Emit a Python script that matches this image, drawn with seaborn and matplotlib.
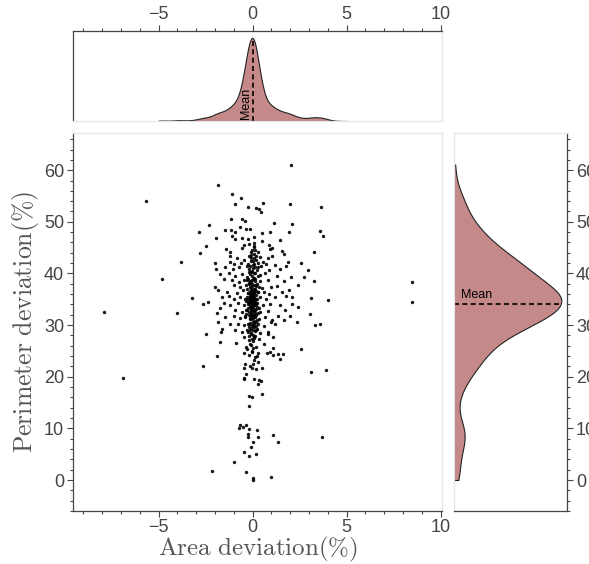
import numpy as np
import pandas as pd
import matplotlib
matplotlib.use('Agg')
import matplotlib.pyplot as plt
import matplotlib.transforms as mtransforms
import seaborn as sns
from matplotlib.ticker import MultipleLocator

# (area deviation %, perimeter deviation %)
outliers = [(-7.88, 32.5), (-6.88, 19.7), (-5.65, 54.0), (-4.80, 38.9), (-4.00, 32.3),
            (-3.79, 42.2), (-3.20, 35.2), (8.49, 38.3), (8.49, 34.4)]

spread = [
    (2.06, 61.1), (-1.84, 57.1), (-1.12, 55.3), (-0.62, 54.7), (-0.92, 53.5), (0.57, 53.7), (0.19, 52.7), (0.32, 52.4), (0.46, 51.9), (-0.23, 52.8),
    (2.00, 53.5), (3.63, 52.9), (-1.15, 50.5), (-0.57, 50.5), (-0.41, 50.2), (1.13, 49.7), (2.11, 49.6), (-2.30, 49.3), (-1.47, 48.5), (-1.17, 48.5),
    (-0.92, 48.1), (-0.69, 49.0), (-0.34, 48.7), (-0.14, 48.7), (0.50, 47.8), (0.94, 48.0), (1.91, 48.1), (3.56, 48.2), (3.72, 47.2), (-2.87, 48.0),
    (-1.95, 46.9), (-1.08, 47.2), (-0.96, 46.6), (-0.55, 46.9), (-0.25, 46.6), (0.09, 45.9), (0.51, 46.2), (1.45, 46.4), (-2.50, 45.3), (-0.46, 45.5),
    (-0.55, 44.9), (0.05, 45.1), (0.89, 45.6), (1.05, 45.0), (0.94, 44.7), (-1.40, 44.8), (-1.19, 44.2), (-2.80, 43.9), (-0.05, 44.5), (0.27, 44.2),
    (1.58, 44.3), (1.67, 43.8), (3.24, 44.2), (-1.22, 43.3), (-0.83, 42.9), (-0.21, 43.3), (0.05, 43.7), (0.41, 43.2), (0.80, 43.0), (1.03, 43.3),
    (-1.19, 42.2), (-0.98, 41.9), (-0.62, 42.0), (-0.48, 42.6), (-0.09, 42.4), (0.20, 42.7), (0.55, 42.2), (0.73, 41.9), (1.21, 41.7), (1.90, 42.3),
    (2.59, 42.1), (-1.99, 42.0), (-1.95, 40.9), (-1.45, 41.3), (-1.05, 40.9), (-0.73, 41.3), (-0.30, 41.4), (0.02, 41.6), (0.27, 41.3), (0.46, 41.5),
    (0.85, 40.6), (1.47, 40.9), (1.79, 41.4), (2.96, 40.6), (-1.76, 39.8), (-1.28, 40.0), (-0.96, 39.5), (-0.57, 39.8), (-0.21, 40.3), (0.05, 40.1),
    (0.37, 39.7), (0.67, 40.1), (1.29, 39.5), (2.04, 39.3), (2.71, 39.3), (-1.54, 39.0), (-1.10, 38.7), (-0.74, 38.4), (-0.44, 38.8), (-0.16, 38.6),
    (0.11, 38.9), (0.41, 38.6), (0.80, 38.8), (1.65, 38.6), (3.28, 38.6), (2.39, 37.7), (-1.99, 37.4), (-1.01, 37.8), (-0.66, 37.4), (-0.37, 37.8),
    (-0.12, 37.4), (0.16, 37.8), (0.51, 37.1), (0.98, 37.4), (1.29, 37.5), (-1.84, 36.8), (-1.37, 36.4), (-0.83, 36.2), (-0.51, 36.8), (-0.27, 36.2),
    (-0.04, 36.6), (0.27, 36.4), (0.59, 36.4), (0.87, 36.1), (1.56, 36.4), (1.91, 36.8), (-1.63, 35.5), (-1.26, 35.6), (-1.01, 35.1), (-0.69, 35.5),
    (-0.39, 35.1), (-0.16, 35.5), (0.09, 35.1), (0.37, 35.5), (0.73, 35.1), (1.21, 35.5), (1.77, 35.7), (2.09, 35.5), (3.12, 35.3), (3.99, 34.8),
    (-2.66, 34.1), (-2.36, 34.4), (-1.51, 34.2), (-1.19, 33.8), (-0.80, 34.3), (-0.48, 33.8), (-0.21, 34.2), (0.00, 33.8), (0.23, 34.3), (0.55, 33.8),
    (0.94, 34.0), (1.47, 33.8), (2.09, 34.0), (2.39, 33.5), (-1.76, 33.4), (-0.92, 32.9), (-0.57, 32.6), (-0.30, 33.0), (-0.09, 32.6), (0.14, 33.0),
    (0.41, 32.5), (0.80, 32.8), (1.74, 32.9), (-1.90, 32.4), (-1.45, 31.6), (-1.01, 31.7), (-0.66, 31.3), (-0.39, 31.7), (-0.12, 31.3), (0.09, 31.7),
    (0.34, 31.2), (0.67, 31.6), (1.03, 30.9), (1.33, 31.7), (2.00, 31.7), (3.07, 32.2), (-1.84, 30.6), (-1.61, 29.2), (-1.67, 28.7), (-1.19, 30.3),
    (-0.80, 30.3), (-0.44, 30.0), (-0.19, 30.3), (0.02, 29.9), (0.27, 30.3), (0.59, 29.8), (0.98, 30.6), (1.21, 30.3), (1.68, 30.9), (2.36, 30.6),
    (3.33, 30.1), (3.56, 30.3), (-0.92, 29.0), (-0.57, 28.7), (-0.30, 29.0), (-0.07, 28.5), (0.16, 29.0), (0.41, 28.4), (0.80, 28.7), (-2.48, 28.2),
    (-1.72, 26.8), (-0.87, 26.6), (-0.48, 27.6), (-0.21, 27.2), (0.05, 27.7), (0.32, 27.4), (0.80, 28.2), (1.08, 27.7), (-0.34, 25.8), (-0.09, 26.1),
    (0.20, 25.8), (0.62, 26.4), (1.08, 25.5), (2.57, 25.4), (-0.30, 25.3),
]

# the dense column around zero
core = [
    (-0.05, 33.2), (0.12, 34.8), (-0.18, 31.9), (0.03, 36.1), (-0.28, 35.4), (0.21, 33.6), (-0.10, 37.2), (0.08, 30.8), (-0.22, 34.1), (0.15, 32.3),
    (-0.02, 35.7), (0.06, 33.9), (-0.14, 36.6), (0.25, 35.1), (-0.33, 33.0), (0.01, 31.4), (-0.08, 38.3), (0.18, 37.5), (-0.25, 30.2), (0.10, 29.6),
    (-0.04, 34.5), (0.02, 32.7), (-0.12, 33.5), (0.14, 36.9), (-0.20, 37.9), (0.05, 39.2), (-0.16, 29.1), (0.22, 31.0), (-0.06, 28.3), (0.09, 27.5),
    (-0.30, 38.7), (0.28, 39.6), (-0.01, 40.4), (0.11, 41.2), (-0.15, 39.9), (0.04, 42.5), (-0.24, 41.8), (0.17, 43.4), (-0.09, 44.1), (0.07, 37.0),
    (-0.03, 30.0), (0.13, 28.9), (-0.19, 27.8), (0.00, 26.9), (-0.11, 32.0), (0.19, 34.3), (-0.27, 36.2), (0.24, 38.0), (-0.07, 35.0), (0.03, 34.0),
    (-0.13, 34.9), (0.09, 35.4), (-0.02, 33.7), (0.16, 33.1), (-0.21, 32.6), (0.06, 31.9), (-0.36, 34.6), (0.31, 36.4), (-0.05, 36.8), (0.02, 38.9),
    (-0.17, 40.8), (0.12, 40.0), (-0.08, 31.1), (0.20, 29.9), (-0.26, 28.6), (0.04, 29.0), (-0.12, 30.5), (0.08, 32.9), (-0.04, 37.6), (0.14, 38.5),
    (-0.40, 31.5), (0.35, 33.3), (-0.01, 35.9), (0.07, 34.2), (-0.09, 33.4), (0.00, 35.2), (-0.06, 34.8), (0.05, 36.5), (-0.15, 35.6), (0.11, 33.8),
    (-0.23, 35.0), (0.18, 32.0), (-0.03, 39.5), (0.01, 41.0), (-0.10, 42.9), (0.13, 44.6), (-0.19, 45.8), (0.06, 47.0), (-0.07, 43.6), (0.26, 42.0),
    (-0.11, 34.2), (0.04, 33.5), (-0.16, 33.9), (0.10, 36.2), (-0.01, 37.9), (0.19, 35.8), (-0.24, 33.4), (0.07, 30.3), (-0.07, 29.4), (0.15, 27.9),
    (-0.14, 26.3), (0.02, 25.6), (-0.05, 24.7), (0.12, 23.9), (-0.18, 38.1), (0.22, 40.6), (-0.29, 39.4), (0.05, 43.0), (-0.13, 41.5), (0.09, 45.3),
    (-0.02, 31.7), (0.17, 30.6), (-0.20, 29.7), (0.01, 28.1), (-0.08, 36.0), (0.14, 35.0), (-0.32, 36.9), (0.27, 32.4), (-0.04, 32.2), (0.06, 37.8),
    (-0.10, 35.6), (0.02, 35.0), (-0.06, 33.0), (0.10, 34.6), (-0.15, 31.2), (0.20, 36.7), (-0.22, 39.0), (0.00, 30.6), (-0.03, 27.3), (0.08, 41.8),
    (-0.36, 32.1), (0.33, 37.3), (-0.09, 40.2), (0.13, 31.5), (-0.26, 34.4), (0.04, 35.6), (-0.12, 36.3), (0.16, 34.0), (-0.05, 38.7), (0.24, 29.3),
]

low = [
    (-1.90, 24.0), (-0.48, 24.6), (-0.03, 25.0), (0.29, 24.6), (0.76, 24.6), (1.06, 24.2), (1.33, 24.4), (1.47, 23.5), (1.62, 24.4), (0.94, 24.8),
    (0.23, 24.0), (-0.21, 24.2), (-2.62, 22.0), (-0.39, 22.4), (-0.16, 22.1), (0.02, 22.4), (0.27, 22.8), (0.07, 23.3), (-0.03, 21.6), (-0.48, 21.7),
    (0.20, 21.5), (0.51, 21.7), (3.12, 21.0), (3.90, 21.4), (-0.34, 20.5), (-0.48, 19.7), (-0.44, 19.5), (0.09, 19.6), (0.32, 19.3), (0.44, 19.1),
    (0.27, 18.5), (0.50, 16.6), (-0.21, 16.2), (-0.03, 16.0), (-0.21, 14.3),
    (-0.65, 10.6), (-0.51, 10.3), (-0.37, 10.6), (-0.71, 10.0), (-0.17, 9.8), (0.21, 9.7), (-0.23, 9.0), (-0.26, 8.3), (0.29, 8.3), (1.10, 8.7),
    (1.33, 7.3), (0.00, 7.4), (3.69, 8.3), (-0.09, 6.3), (-0.44, 5.5), (0.18, 5.1), (-0.21, 4.6), (-0.97, 3.4), (-2.16, 1.7), (-0.37, 1.5),
    (0.02, 0.3), (0.02, 0.0), (0.96, 0.5),
]

df = pd.DataFrame(outliers + spread + core + low, columns=['area', 'perimeter'])

sns.set_theme(style='ticks')
plt.rcParams['font.family'] = ['Liberation Sans', 'DejaVu Sans']
plt.rcParams['mathtext.fontset'] = 'cm'

fill_color = '#c58989'
dark = '#444444'
light = '#e6e6e6'

W, H = 589, 564
fig = plt.figure(figsize=(W / 100, H / 100), dpi=100)


def box(x0, y0, x1, y1):
    return [x0 / W, 1 - y1 / H, (x1 - x0) / W, (y1 - y0) / H]


ax = fig.add_axes(box(73, 133, 442, 511))
ax_top = fig.add_axes(box(73, 31, 442, 121), sharex=ax)
ax_right = fig.add_axes(box(454, 133, 567, 511), sharey=ax)

sns.scatterplot(data=df, x='area', y='perimeter', ax=ax, s=6, color='black',
                linewidth=0, alpha=0.9)

sns.kdeplot(data=df, x='area', ax=ax_top, fill=True, color=fill_color, alpha=1,
            edgecolor='#222222', linewidth=0.8, clip=(-5, 5), bw_adjust=0.7)
sns.kdeplot(data=df, y='perimeter', ax=ax_right, fill=True, color=fill_color, alpha=1,
            edgecolor='#222222', linewidth=0.8, cut=0, bw_adjust=0.9)

# mean markers
mx = df['area'].mean()
my = df['perimeter'].mean()

v = ax_top.collections[0].get_paths()[0].vertices
v = v[v[:, 1] > 0]
v = v[np.argsort(v[:, 0])]
hx = np.interp(mx, v[:, 0], v[:, 1])
ax_top.set_ylim(0, v[:, 1].max() / 0.925)
ax_top.plot([mx, mx], [0, hx], ls='--', color='black', lw=1.2, dashes=(3, 2))
ax_top.text(mx - 0.1, 0.02, 'Mean', rotation=90, ha='right', va='bottom', fontsize=9,
            color='black',
            transform=mtransforms.blended_transform_factory(ax_top.transData, ax_top.transAxes))

v = ax_right.collections[0].get_paths()[0].vertices
v = v[v[:, 0] > 0]
v = v[np.argsort(v[:, 1])]
hy = np.interp(my, v[:, 1], v[:, 0])
ax_right.set_xlim(0, v[:, 0].max() / 0.95)
ax_right.plot([0, hy], [my, my], ls='--', color='black', lw=1.2, dashes=(3, 2))
ax_right.text(0.06, my + 0.5, 'Mean', ha='left', va='bottom', fontsize=9, color='black',
              transform=mtransforms.blended_transform_factory(ax_right.transAxes, ax_right.transData))

ax.set_xlim(-9.55, 10.07)
ax.set_ylim(-6.0, 67.2)
ax.xaxis.set_major_locator(MultipleLocator(5))
ax.xaxis.set_minor_locator(MultipleLocator(1))
ax.yaxis.set_major_locator(MultipleLocator(10))
ax.yaxis.set_minor_locator(MultipleLocator(2))

tick_kw = dict(direction='out', color=dark, labelcolor='#444444', labelsize=13, width=0.8)
for a in (ax, ax_top, ax_right):
    a.tick_params(which='major', length=4, pad=2.5, **tick_kw)
    a.tick_params(which='minor', length=2.5, **tick_kw)
    a.set_facecolor('white')

ax.tick_params(axis='x', which='both', top=False, bottom=True)
ax.tick_params(axis='x', which='major', pad=1.5)
ax.tick_params(axis='y', which='both', right=False, left=True)
ax_top.tick_params(axis='x', which='both', top=True, bottom=False, labeltop=True, labelbottom=False)
ax_top.tick_params(axis='x', which='major', pad=1.5)
ax_top.tick_params(axis='y', which='both', left=False, right=False, labelleft=False)
ax_right.tick_params(axis='y', which='both', right=True, left=False, labelright=True, labelleft=False)
ax_right.tick_params(axis='x', which='both', bottom=False, top=False, labelbottom=False)

spine_colors = {
    ax: {'left': dark, 'bottom': dark, 'top': light, 'right': light},
    ax_top: {'left': dark, 'top': dark, 'bottom': light, 'right': light},
    ax_right: {'right': dark, 'bottom': dark, 'left': light, 'top': light},
}
for a, spec in spine_colors.items():
    for side, col in spec.items():
        a.spines[side].set_visible(True)
        a.spines[side].set_color(col)
        a.spines[side].set_linewidth(0.9)

ax_top.set_xlabel('')
ax_top.set_ylabel('')
ax_right.set_xlabel('')
ax_right.set_ylabel('')
ax.set_xlabel(r'$\mathrm{Area\ deviation(\%)}$', fontsize=18, color='#555555', labelpad=-0.5)
ax.set_ylabel(r'$\mathrm{Perimeter\ deviation(\%)}$', fontsize=18.5, color='#555555', labelpad=2)

fig.savefig('out.png', dpi=100)
